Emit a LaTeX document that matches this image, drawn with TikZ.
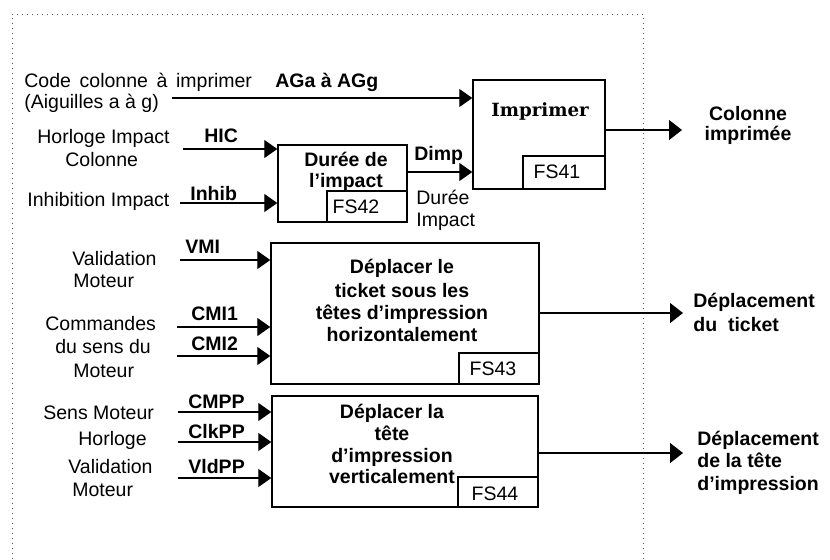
\documentclass[tikz,border=0pt]{standalone}
\usepackage{fontspec}
\setmainfont{Liberation Sans}
\newfontfamily\slabfont{DejaVu Serif}
\usetikzlibrary{arrows.meta,fit}
\begin{document}
\begin{tikzpicture}[x=0.5pt,y=-0.5pt,
  txt/.style={inner sep=0pt, font=\fontsize{9.75}{11}\selectfont},
  btxt/.style={inner sep=0pt, font=\fontsize{9.75}{11}\selectfont\bfseries},
  box/.style={draw, line width=0.7pt, inner sep=0pt},
  inarr/.style={line width=0.6pt, -{Triangle[length=6.5pt,width=9pt]}},
  outarr/.style={line width=0.6pt, -{Triangle[length=6.5pt,width=10pt]}},
  frame/.style={draw=black!65, dotted, line width=0.5pt}]
\useasboundingbox (0,0) rectangle (830,559);
\draw[frame] (12,559) -- (12,14) -- (643,14) -- (643,559);

% boxes
\node[box, fit={(473,80) (605,189)}] (imp) {};
\node[box, fit={(523,156) (605,189)}] (fs41) {};
\node[box, fit={(278,145) (407,222)}] (dur) {};
\node[box, fit={(327,191) (407,222)}] (fs42) {};
\node[box, fit={(271,243) (539,384)}] (tick) {};
\node[box, fit={(459,353) (539,384)}] (fs43) {};
\node[box, fit={(272,396) (538,507)}] (tete) {};
\node[box, fit={(458,477) (538,507)}] (fs44) {};

% box texts
\node[inner sep=0pt, anchor=base, font=\slabfont\bfseries\fontsize{9.1}{10}\selectfont] (timp) at (540,116) {Imprimer};
\node[txt, anchor=base] (tfs41) at (557,178) {FS41};
\node[btxt, anchor=base] (tdur1) at (346,166) {Durée de};
\node[btxt, anchor=base] (tdur2) at (346,187) {l’impact};
\node[txt, anchor=base] (tfs42) at (356,213) {FS42};
\node[btxt, anchor=base] (ttk1) at (402,273) {Déplacer le};
\node[btxt, anchor=base] (ttk2) at (402,297) {ticket sous les};
\node[btxt, anchor=base] (ttk3) at (402,319) {têtes d’impression};
\node[btxt, anchor=base] (ttk4) at (402,341) {horizontalement};
\node[txt, anchor=base] (tfs43) at (493,375) {FS43};
\node[btxt, anchor=base] (ttt1) at (392,418) {Déplacer la};
\node[btxt, anchor=base] (ttt2) at (392,440) {tête};
\node[btxt, anchor=base] (ttt3) at (392,462) {d’impression};
\node[btxt, anchor=base] (ttt4) at (392,483) {verticalement};
\node[txt, anchor=base] (tfs44) at (495,500) {FS44};

% left labels
\node[txt, anchor=base west] (lcode) at (24,87) {Code~\,colonne~\,à~\,imprimer};
\node[btxt, anchor=base west] (lag) at (275,87) {AGa à AGg};
\node[txt, anchor=base west] (laig) at (24,108) {(Aiguilles a à g)};
\node[txt, anchor=base west] (lhor1) at (37,143) {Horloge Impact};
\node[txt, anchor=base west] (lhor2) at (65,166) {Colonne};
\node[btxt, anchor=base west] (lhic) at (204,142) {HIC};
\node[txt, anchor=base west] (linh) at (27,206) {Inhibition Impact};
\node[btxt, anchor=base west] (linhib) at (190,200) {Inhib};
\node[btxt, anchor=base west] (ldimp) at (414,160) {Dimp};
\node[txt, anchor=base west] (ldi1) at (416,204) {Durée};
\node[txt, anchor=base west] (ldi2) at (416,226) {Impact};
\node[txt, anchor=base west] (lval1) at (72,265) {Validation};
\node[txt, anchor=base west] (lval2) at (73,287) {Moteur};
\node[btxt, anchor=base west] (lvmi) at (185,253) {VMI};
\node[txt, anchor=base west] (lcom1) at (45,330) {Commandes};
\node[txt, anchor=base west] (lcom2) at (55,353) {du sens du};
\node[txt, anchor=base west] (lcom3) at (73,377) {Moteur};
\node[btxt, anchor=base west] (lcmi1) at (191,320) {CMI1};
\node[btxt, anchor=base west] (lcmi2) at (191,350) {CMI2};
\node[txt, anchor=base west] (lsens) at (43,419) {Sens Moteur};
\node[txt, anchor=base west] (lhorl) at (78,445) {Horloge};
\node[txt, anchor=base west] (lvm1) at (68,473) {Validation};
\node[txt, anchor=base west] (lvm2) at (72,496) {Moteur};
\node[btxt, anchor=base west] (lcmpp) at (188,408) {CMPP};
\node[btxt, anchor=base west] (lclk) at (188,438) {ClkPP};
\node[btxt, anchor=base west] (lvld) at (188,473) {VldPP};

% right labels
\node[btxt, anchor=base] (rcol1) at (748,120) {Colonne};
\node[btxt, anchor=base] (rcol2) at (748,140) {imprimée};
\node[btxt, anchor=base west] (rdt1) at (693,307) {Déplacement};
\node[btxt, anchor=base west] (rdt2) at (693,331) {du~ ticket};
\node[btxt, anchor=base west] (rdh1) at (697,445) {Déplacement};
\node[btxt, anchor=base west] (rdh2) at (697,467) {de la tête};
\node[btxt, anchor=base west] (rdh3) at (697,490) {d’impression};

% input connectors
\coordinate (sAG) at (172,98);
\coordinate (sHIC) at (183,149);
\coordinate (sINH) at (180,203);
\coordinate (sVMI) at (180,260);
\coordinate (sCMI1) at (177,327);
\coordinate (sCMI2) at (177,356);
\coordinate (sCMPP) at (178,412);
\coordinate (sCLK) at (178,442);
\coordinate (sVLD) at (178,478);
\coordinate (yDimp) at (0,172);
\draw[inarr] (sAG) -- (sAG -| imp.west);
\draw[inarr] (sHIC) -- (sHIC -| dur.west);
\draw[inarr] (sINH) -- (sINH -| dur.west);
\draw[inarr] (dur.east |- yDimp) -- (imp.west |- yDimp);
\draw[inarr] (sVMI) -- (sVMI -| tick.west);
\draw[inarr] (sCMI1) -- (sCMI1 -| tick.west);
\draw[inarr] (sCMI2) -- (sCMI2 -| tick.west);
\draw[inarr] (sCMPP) -- (sCMPP -| tete.west);
\draw[inarr] (sCLK) -- (sCLK -| tete.west);
\draw[inarr] (sVLD) -- (sVLD -| tete.west);

% output connectors
\coordinate (oImp) at (682,130);
\coordinate (oTick) at (683,313);
\coordinate (oTete) at (683,453);
\draw[outarr] (oImp -| imp.east) -- (oImp);
\draw[outarr] (oTick -| tick.east) -- (oTick);
\draw[outarr] (oTete -| tete.east) -- (oTete);
\end{tikzpicture}
\end{document}
